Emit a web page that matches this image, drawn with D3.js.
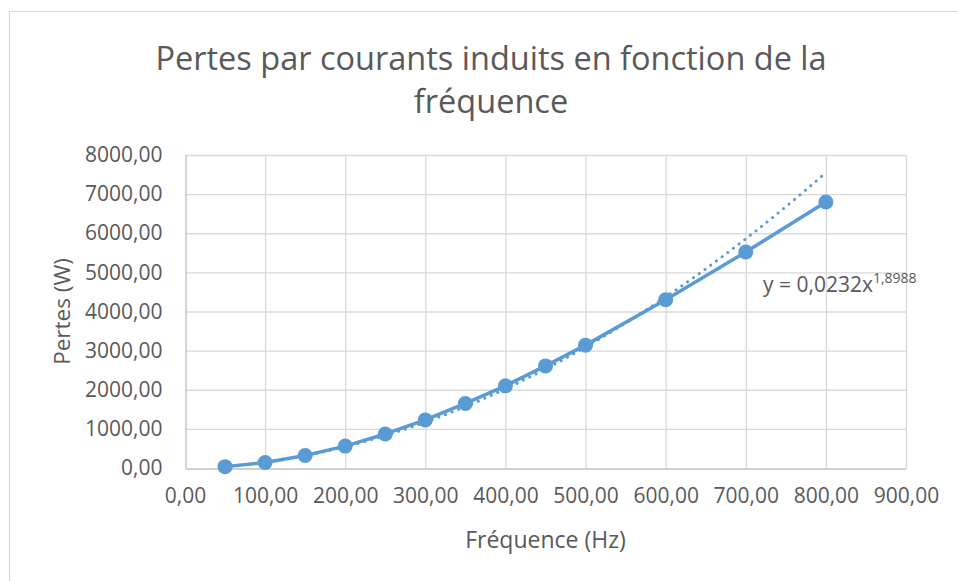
<!DOCTYPE html>
<meta charset="utf-8">
<head>
  <title>Pertes par courants induits</title>
  <style>
    body { margin: 0; background: #fff; }
    text { font-family: "Open Sans", sans-serif; fill: #595959; }
  </style>
</head>
<body>
<script src="https://d3js.org/d3.v7.min.js"></script>
<div id="chart"></div>
<script>

// data
var frequences = [50, 100, 150, 200, 250, 300, 350, 400, 450, 500, 600, 700, 800];
var pertes = [35, 140, 320, 560, 870, 1230, 1650, 2100, 2610, 3140, 4300, 5520, 6800];
var xTicks = [0, 100, 200, 300, 400, 500, 600, 700, 800, 900];
var yTicks = [0, 1000, 2000, 3000, 4000, 5000, 6000, 7000, 8000];
// power trendline shown on the chart: y = a * x^b
var trendA = 0.0232, trendB = 1.8988;

var width = 958, height = 581;
var plot = {left: 185, right: 906, top: 155, bottom: 468};
var blue = "#5b9bd5";

var fr = d3.formatLocale({decimal: ",", thousands: "", grouping: [3], currency: ["", ""]});
var fmt = fr.format(".2f");

var svg = d3.select("#chart").append("svg")
    .attr("width", width)
    .attr("height", height);

// chart frame (only left and top edges are visible)
svg.append("path")
    .attr("d", "M9.5," + height + "V11.5H" + width)
    .style("fill", "none")
    .style("stroke", "#d9d9d9")
    .style("stroke-width", "1px");

var x = d3.scaleLinear().domain([0, 900]).range([plot.left, plot.right]);
var y = d3.scaleLinear().domain([0, 8000]).range([plot.bottom, plot.top]);

// grid
svg.append("g")
  .selectAll("line")
  .data(yTicks.slice(1))
  .enter().append("line")
    .attr("x1", plot.left).attr("x2", plot.right)
    .attr("y1", function(d) { return y(d) + 0.5; })
    .attr("y2", function(d) { return y(d) + 0.5; })
    .style("stroke", "#d9d9d9").style("stroke-width", "1.3px");

svg.append("g")
  .selectAll("line")
  .data(xTicks.slice(1))
  .enter().append("line")
    .attr("y1", plot.top).attr("y2", plot.bottom)
    .attr("x1", function(d) { return x(d) + 0.5; })
    .attr("x2", function(d) { return x(d) + 0.5; })
    .style("stroke", "#d9d9d9").style("stroke-width", "1.3px");

// axes
var xAxis = svg.append("g")
    .attr("transform", "translate(0," + (plot.bottom + 0.5) + ")")
    .call(d3.axisBottom(x).tickValues(xTicks).tickSize(0).tickPadding(20).tickFormat(fmt));
var yAxis = svg.append("g")
    .attr("transform", "translate(" + (plot.left + 0.5) + ",0)")
    .call(d3.axisLeft(y).tickValues(yTicks).tickSize(0).tickPadding(23).tickFormat(fmt));

[xAxis, yAxis].forEach(function(ax) {
  ax.select(".domain").style("stroke", "#bfbfbf").style("stroke-width", "1.3px");
  ax.selectAll("text")
    .style("font-family", "'Open Sans', sans-serif")
    .style("font-size", "21px")
    .style("fill", "#595959");
});

// trendline (dotted)
var trend = d3.range(50, 801, 5).map(function(f) { return [f, trendA * Math.pow(f, trendB)]; });
svg.append("path")
    .datum(trend)
    .attr("d", d3.line().x(function(d) { return x(d[0]); }).y(function(d) { return y(d[1]); }))
    .style("fill", "none")
    .style("stroke", blue)
    .style("stroke-width", "3px")
    .style("stroke-linecap", "round")
    .style("stroke-dasharray", "0.1 7");

// series
var data = frequences.map(function(f, i) { return {f: f, p: pertes[i]}; });
svg.append("path")
    .datum(data)
    .attr("d", d3.line().x(function(d) { return x(d.f); }).y(function(d) { return y(d.p); }))
    .style("fill", "none")
    .style("stroke", blue)
    .style("stroke-width", "3.5px")
    .style("stroke-linejoin", "round");

svg.append("g")
  .selectAll("circle")
  .data(data)
  .enter().append("circle")
    .attr("cx", function(d) { return x(d.f); })
    .attr("cy", function(d) { return y(d.p); })
    .attr("r", 7.5)
    .style("fill", blue);

// title
var title = svg.append("text")
    .attr("text-anchor", "middle")
    .style("font-size", "32.5px");
title.append("tspan").attr("x", 491).attr("y", 70).text("Pertes par courants induits en fonction de la");
title.append("tspan").attr("x", 491).attr("y", 113).text("fréquence");

// axis titles
svg.append("text")
    .attr("x", (plot.left + plot.right) / 2)
    .attr("y", 548)
    .attr("text-anchor", "middle")
    .style("font-size", "23px")
    .text("Fréquence (Hz)");

svg.append("text")
    .attr("transform", "translate(70," + ((plot.top + plot.bottom) / 2) + ") rotate(-90)")
    .attr("text-anchor", "middle")
    .style("font-size", "22.5px")
    .text("Pertes (W)");

// trendline equation
var eq = svg.append("text")
    .attr("x", 763)
    .attr("y", 292)
    .style("font-size", "21px");
eq.append("tspan").text("y = 0,0232x");
eq.append("tspan").attr("dy", -9).style("font-size", "14px").text("1,8988");

</script>
</body>
</html>
